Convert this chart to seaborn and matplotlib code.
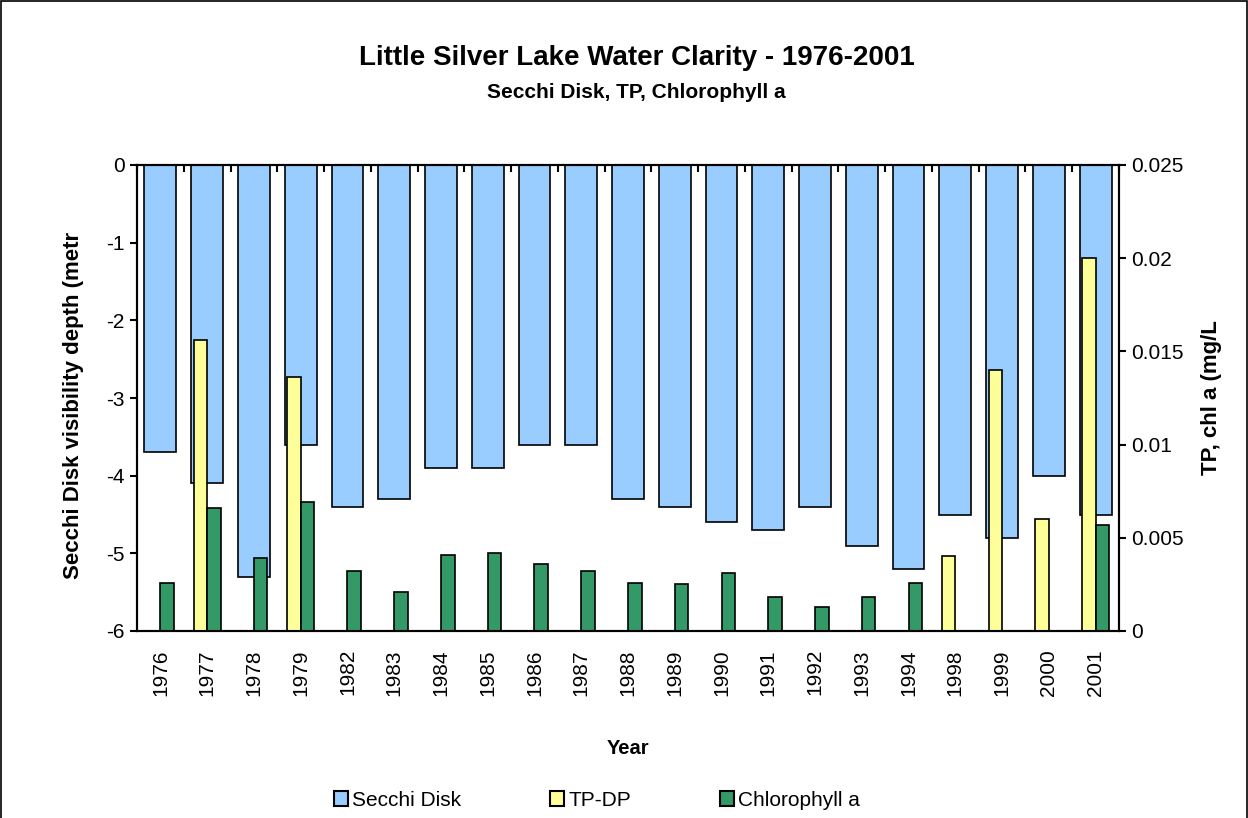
import pandas as pd
import numpy as np
import matplotlib
matplotlib.use("Agg")
import matplotlib.pyplot as plt
from matplotlib.patches import Patch, Rectangle
import seaborn as sns

years = ['1976', '1977', '1978', '1979', '1982', '1983', '1984', '1985', '1986', '1987', '1988',
         '1989', '1990', '1991', '1992', '1993', '1994', '1998', '1999', '2000', '2001']
secchi = [-3.7, -4.1, -5.3, -3.6, -4.4, -4.3, -3.9, -3.9, -3.6, -3.6, -4.3,
          -4.4, -4.6, -4.7, -4.4, -4.9, -5.2, -4.5, -4.8, -4.0, -4.5]
tp_dp = [np.nan, 0.0156, np.nan, 0.0136, np.nan, np.nan, np.nan, np.nan, np.nan, np.nan, np.nan,
         np.nan, np.nan, np.nan, np.nan, np.nan, np.nan, 0.004, 0.014, 0.006, 0.020]
chl_a = [0.0026, 0.0066, 0.0039, 0.0069, 0.0032, 0.0021, 0.0041, 0.0042, 0.0036, 0.0032, 0.0026,
         0.0025, 0.0031, 0.0018, 0.0013, 0.0018, 0.0026, np.nan, np.nan, np.nan, 0.0057]

c_secchi = '#99CCFF'
c_tp = '#FFFF99'
c_chl = '#339966'

sns.set_style("white")
plt.rcParams['font.family'] = ['Liberation Sans', 'DejaVu Sans']
plt.rcParams['axes.unicode_minus'] = False
plt.rcParams['text.color'] = 'black'
plt.rcParams['axes.labelcolor'] = 'black'
plt.rcParams['xtick.color'] = 'black'
plt.rcParams['ytick.color'] = 'black'

fig = plt.figure(figsize=(12.48, 8.18), dpi=100)
ax = fig.add_axes([137/1248, 1-631/818, 982/1248, 466/818])

# secchi depth bars hang down from 0 on the left axis
df_s = pd.DataFrame({'Year': years, 'Secchi Disk': secchi})
sns.barplot(data=df_s, x='Year', y='Secchi Disk', order=years, color=c_secchi,
            width=0.68, edgecolor='black', linewidth=1.2, saturation=1, ax=ax)

# TP and chlorophyll on the right axis, side by side
ax2 = ax.twinx()
df_w = pd.DataFrame({'Year': years, 'TP-DP': tp_dp, 'Chlorophyll a': chl_a})
df_long = df_w.melt(id_vars='Year', var_name='series', value_name='value').dropna()
sns.barplot(data=df_long, x='Year', y='value', hue='series', order=years,
            hue_order=['TP-DP', 'Chlorophyll a'], palette=[c_tp, c_chl],
            width=0.58, dodge=True, edgecolor='black', linewidth=1.2, saturation=1,
            legend=False, ax=ax2)

ax.set_ylim(-6, 0)
ax.set_yticks(range(-6, 1))
ax2.set_ylim(0, 0.025)
ax2.set_yticks([0, 0.005, 0.01, 0.015, 0.02, 0.025])
ax2.set_yticklabels(['0', '0.005', '0.01', '0.015', '0.02', '0.025'])
ax.set_xlim(-0.5, len(years) - 0.5)

for a in (ax, ax2):
    for sp in a.spines.values():
        sp.set_linewidth(1.5)
        sp.set_color('black')

ax.tick_params(axis='y', direction='out', length=5, width=1.5, labelsize=15, pad=4)
ax2.tick_params(axis='y', direction='out', length=5, width=1.5, labelsize=15, pad=4)
ax.set_xticks(range(len(years)))
ax.set_xticklabels(years, rotation=90)
ax.set_xticks(np.arange(-0.5, len(years), 1), minor=True)
ax.tick_params(axis='x', which='major', length=0, labelsize=15, pad=13)
ax.tick_params(axis='x', which='minor', bottom=False, top=True, direction='in', length=5, width=1.5)
ax2.tick_params(axis='x', which='both', length=0)
ax2.set_xlabel('')

ax.set_xlabel('Year', fontsize=14.5, fontweight='bold')
ax.xaxis.set_label_coords(0.5, -0.232)
ax.set_ylabel('Secchi Disk visibility depth (metr', fontsize=16, fontweight='bold')
ax.yaxis.set_label_coords(-0.054, 0.485)
ax2.set_ylabel('TP, chl a (mg/L', fontsize=16, fontweight='bold')
ax2.yaxis.set_label_coords(1.084, 0.5)

fig.text(0.510, 1-58/818, 'Little Silver Lake Water Clarity - 1976-2001',
         ha='center', va='center', fontsize=20, fontweight='bold')
fig.text(0.510, 1-92/818, 'Secchi Disk, TP, Chlorophyll a',
         ha='center', va='center', fontsize=15, fontweight='bold')

handles = [Patch(facecolor=c_secchi, edgecolor='black', linewidth=1.5, label='Secchi Disk'),
           Patch(facecolor=c_tp, edgecolor='black', linewidth=1.5, label='TP-DP'),
           Patch(facecolor=c_chl, edgecolor='black', linewidth=1.5, label='Chlorophyll a')]
fig.legend(handles=handles, loc='center', bbox_to_anchor=(597/1248, 1-800/818), ncol=3,
           frameon=False, fontsize=15, handlelength=0.65, handleheight=0.75,
           handletextpad=0.2, columnspacing=4.3, borderpad=0, borderaxespad=0)

fig.add_artist(Rectangle((0.0008, -0.01), 0.9984, 1.0088, transform=fig.transFigure,
                         fill=False, lw=1.2, ec='black'))

fig.savefig('out.png', dpi=100)
